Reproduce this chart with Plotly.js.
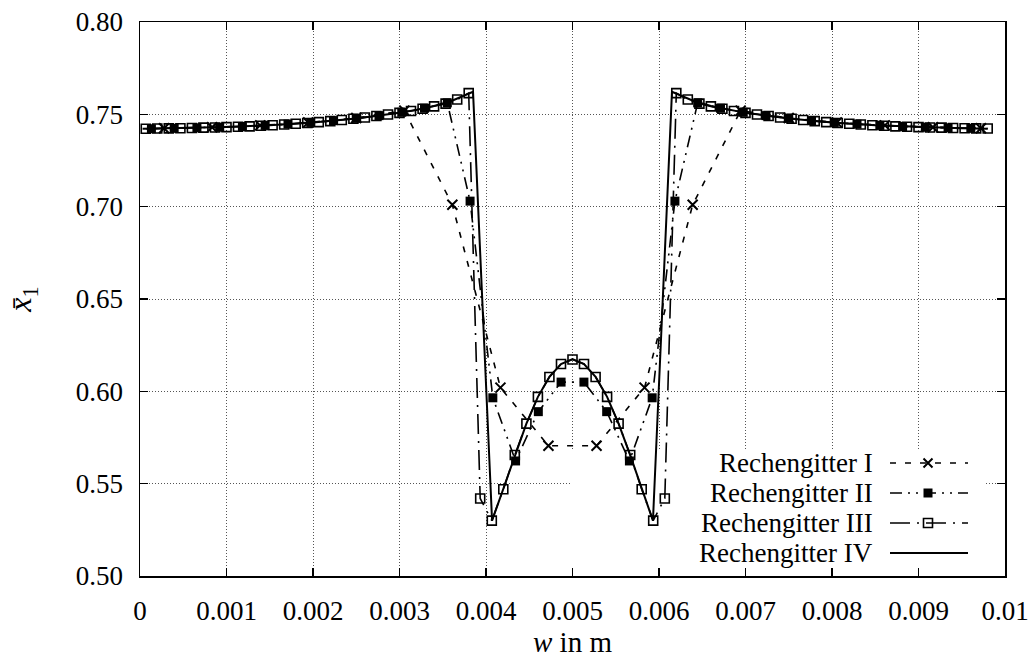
<!DOCTYPE html>
<html>
<head>
<meta charset="utf-8">
<script src="https://cdn.plot.ly/plotly-3.0.1.min.js"></script>
<style>html,body{margin:0;padding:0;background:#fff;}#chart{width:1033px;height:662px;}</style>
</head>
<body>
<div id="chart"></div>
<script>
// ---- data ----
const seriesNames = ["Rechengitter I", "Rechengitter II", "Rechengitter III", "Rechengitter IV"];

const xI = [0.000278, 0.000833, 0.001389, 0.001944, 0.0025, 0.003056, 0.003611, 0.004167, 0.004722,
            0.005278, 0.005833, 0.006389, 0.006944, 0.0075, 0.008056, 0.008611, 0.009167, 0.009722];
const yI = [0.7425, 0.7430, 0.7440, 0.7456, 0.7480, 0.7520, 0.7010, 0.6020, 0.5705,
            0.5705, 0.6020, 0.7010, 0.7520, 0.7480, 0.7456, 0.7440, 0.7430, 0.7425];

const xII = [0.000132, 0.000395, 0.000658, 0.000921, 0.001184, 0.001447, 0.001711, 0.001974, 0.002237, 0.0025,
             0.002763, 0.003026, 0.003289, 0.003553, 0.003816, 0.004079, 0.004342, 0.004605, 0.004868, 0.005132,
             0.005395, 0.005658, 0.005921, 0.006184, 0.006447, 0.006711, 0.006974, 0.007237, 0.0075, 0.007763,
             0.008026, 0.008289, 0.008553, 0.008816, 0.009079, 0.009342, 0.009605];
const yII = [0.7422, 0.7424, 0.7427, 0.7430, 0.7434, 0.7440, 0.7447, 0.7456, 0.7466, 0.7478,
             0.7493, 0.7511, 0.7533, 0.7562, 0.7030, 0.5965, 0.5623, 0.5890, 0.6050, 0.6050,
             0.5890, 0.5623, 0.5965, 0.7030, 0.7562, 0.7533, 0.7511, 0.7493, 0.7478, 0.7466,
             0.7456, 0.7447, 0.7440, 0.7434, 0.7430, 0.7427, 0.7424];

const xIII = [0.0000667, 0.0002, 0.000333, 0.000467, 0.0006, 0.000733, 0.000867, 0.001, 0.001133, 0.001267,
              0.0014, 0.001533, 0.001667, 0.0018, 0.001933, 0.002067, 0.0022, 0.002333, 0.002467, 0.0026,
              0.002733, 0.002867, 0.003, 0.003133, 0.003267, 0.0034, 0.003533, 0.003667, 0.0038, 0.003933,
              0.004067, 0.0042, 0.004333, 0.004467, 0.0046, 0.004733, 0.004867, 0.005, 0.005133, 0.005267,
              0.0054, 0.005533, 0.005667, 0.0058, 0.005933, 0.006067, 0.0062, 0.006333, 0.006467, 0.0066,
              0.006733, 0.006867, 0.007, 0.007133, 0.007267, 0.0074, 0.007533, 0.007667, 0.0078, 0.007933,
              0.008067, 0.0082, 0.008333, 0.008467, 0.0086, 0.008733, 0.008867, 0.009, 0.009133, 0.009267,
              0.0094, 0.009533, 0.009667, 0.0098];
const yIII = [0.7422, 0.7423, 0.7424, 0.7425, 0.7426, 0.7428, 0.7429, 0.7431, 0.7433, 0.7435,
              0.7438, 0.7441, 0.7445, 0.7449, 0.7453, 0.7458, 0.7463, 0.7469, 0.7476, 0.7483,
              0.7491, 0.7499, 0.7508, 0.7518, 0.7530, 0.7543, 0.7558, 0.7580, 0.7615, 0.5420,
              0.5300, 0.5470, 0.5655, 0.5825, 0.5970, 0.6078, 0.6148, 0.6172, 0.6148, 0.6078,
              0.5970, 0.5825, 0.5655, 0.5470, 0.5300, 0.5420, 0.7615, 0.7580, 0.7558, 0.7543,
              0.7530, 0.7518, 0.7508, 0.7499, 0.7491, 0.7483, 0.7476, 0.7469, 0.7463, 0.7458,
              0.7453, 0.7449, 0.7445, 0.7441, 0.7438, 0.7435, 0.7433, 0.7431, 0.7429, 0.7428,
              0.7426, 0.7425, 0.7424, 0.7423];

const xIV = [0.00003, 0.0005, 0.001, 0.0015, 0.002, 0.0025, 0.003, 0.0032, 0.0034, 0.0036,
             0.0037, 0.0038, 0.00385, 0.00407, 0.0042, 0.004333, 0.004467, 0.0046, 0.004733, 0.004867,
             0.005, 0.005133, 0.005267, 0.0054, 0.005533, 0.005667, 0.0058, 0.00593, 0.00615, 0.0062,
             0.0063, 0.0064, 0.0066, 0.0068, 0.007, 0.0075, 0.008, 0.0085, 0.009, 0.0095, 0.0098];
const yIV = [0.7422, 0.7425, 0.7431, 0.7441, 0.7456, 0.7478, 0.7508, 0.7525, 0.7545, 0.7572,
             0.7592, 0.7612, 0.7622, 0.5300, 0.5470, 0.5655, 0.5825, 0.5970, 0.6078, 0.6148,
             0.6175, 0.6148, 0.6078, 0.5970, 0.5825, 0.5655, 0.5470, 0.5300, 0.7622, 0.7612,
             0.7592, 0.7572, 0.7545, 0.7525, 0.7508, 0.7478, 0.7456, 0.7441, 0.7431, 0.7425, 0.7422];

const xTickVals = [0, 0.001, 0.002, 0.003, 0.004, 0.005, 0.006, 0.007, 0.008, 0.009, 0.01];
const xTickText = ["0", "0.001", "0.002", "0.003", "0.004", "0.005", "0.006", "0.007", "0.008", "0.009", "0.01"];
const yTickVals = [0.50, 0.55, 0.60, 0.65, 0.70, 0.75, 0.80];
const yTickText = ["0.50", "0.55", "0.60", "0.65", "0.70", "0.75", "0.80"];

// ---- styles ----
const FONT = "Liberation Serif, Times New Roman, serif";
const dashI = "6px,9px";
const dashII = "12px,6px,2px,6px,2px,6px";
const dashIII = "20px,7px,2px,7px";

const traces = [
  {x: xIV, y: yIV, name: seriesNames[3], mode: "lines",
   line: {color: "#000", width: 2}},
  {x: xIII, y: yIII, name: seriesNames[2], mode: "lines+markers",
   line: {color: "#000", width: 1.6, dash: dashIII},
   marker: {symbol: "square-open", size: 9, color: "#000", line: {width: 1.6, color: "#000"}}},
  {x: xII, y: yII, name: seriesNames[1], mode: "lines+markers",
   line: {color: "#000", width: 1.6, dash: dashII},
   marker: {symbol: "square", size: 9, color: "#000", line: {width: 0}}},
  {x: xI, y: yI, name: seriesNames[0], mode: "lines+markers",
   line: {color: "#000", width: 1.6, dash: dashI},
   marker: {symbol: "x-thin-open", size: 10, color: "#000", line: {width: 2, color: "#000"}}}
];

// plot area in pixels
const W = 1033, H = 662, L = 140, R = 1005, T = 22, B = 576;
const px = v => (v - L) / (R - L);
const py = v => (B - v) / (B - T);

// custom gnuplot-like key
const keyRows = [463, 493, 523, 553];
const keyTextRight = 874, keyLineX0 = 890, keyLineX1 = 968, keyMarkX = 928;
const keyDashes = [dashI, dashII, dashIII, "solid"];
const shapes = [];
const annotations = [];

// white key area that hides the grid (below traces)
shapes.push({type: "rect", xref: "x", yref: "y", layer: "between",
  x0: 0.00498, x1: 0.00977, y0: 0.5043, y1: 0.5688,
  fillcolor: "#fff", line: {width: 0}});

seriesNames.forEach((name, i) => {
  const yy = py(keyRows[i]);
  annotations.push({xref: "paper", yref: "paper", x: px(keyTextRight), y: yy,
    xanchor: "right", yanchor: "middle", showarrow: false, text: name, borderpad: 0,
    font: {family: FONT, size: 27, color: "#000"}});
  shapes.push({type: "line", xref: "paper", yref: "paper", layer: "above",
    x0: px(keyLineX0), x1: px(keyLineX1), y0: yy, y1: yy,
    line: {color: "#000", width: i === 3 ? 2 : 1.6, dash: keyDashes[i]}});
});
// key markers
const hs = 4.5;
{
  const yy = keyRows[0];
  shapes.push({type: "path", xref: "paper", yref: "paper", layer: "above",
    path: `M${px(keyMarkX - hs)},${py(yy - hs)} L${px(keyMarkX + hs)},${py(yy + hs)} M${px(keyMarkX - hs)},${py(yy + hs)} L${px(keyMarkX + hs)},${py(yy - hs)}`,
    line: {color: "#000", width: 2}});
}
{
  const yy = keyRows[1];
  shapes.push({type: "rect", xref: "paper", yref: "paper", layer: "above",
    x0: px(keyMarkX - hs), x1: px(keyMarkX + hs), y0: py(yy + hs), y1: py(yy - hs),
    fillcolor: "#000", line: {color: "#000", width: 0}});
}
{
  const yy = keyRows[2];
  shapes.push({type: "rect", xref: "paper", yref: "paper", layer: "above",
    x0: px(keyMarkX - hs), x1: px(keyMarkX + hs), y0: py(yy + hs), y1: py(yy - hs),
    fillcolor: "rgba(0,0,0,0)", line: {color: "#000", width: 1.6}});
}

const axisCommon = {
  showline: true, linecolor: "#000", linewidth: 1.5, mirror: "ticks",
  ticks: "inside", ticklen: 8, tickwidth: 1.2, tickcolor: "#000",
  showgrid: true, gridcolor: "#555", gridwidth: 1, griddash: "1px,2px",
  zeroline: false, automargin: false, ticklabelstandoff: 10,
  tickfont: {family: FONT, size: 27, color: "#000"}
};

const layout = {
  width: W, height: H,
  margin: {l: L, r: W - R, t: T, b: H - B, pad: 0},
  paper_bgcolor: "#fff", plot_bgcolor: "#fff",
  showlegend: false,
  font: {family: FONT, color: "#000"},
  xaxis: Object.assign({}, axisCommon, {
    range: [0, 0.01], tickmode: "array", tickvals: xTickVals, ticktext: xTickText,
    title: {text: "<i>w</i> in m", font: {family: FONT, size: 29, color: "#000"}, standoff: 0}
  }),
  yaxis: Object.assign({}, axisCommon, {
    range: [0.5, 0.8], tickmode: "array", tickvals: yTickVals, ticktext: yTickText,
    title: {text: "<i>x̄</i><sub>1</sub>", font: {family: FONT, size: 32, color: "#000"}, standoff: 34}
  }),
  shapes: shapes,
  annotations: annotations
};

Plotly.newPlot("chart", traces, layout, {displayModeBar: false, staticPlot: true});
</script>
</body>
</html>
